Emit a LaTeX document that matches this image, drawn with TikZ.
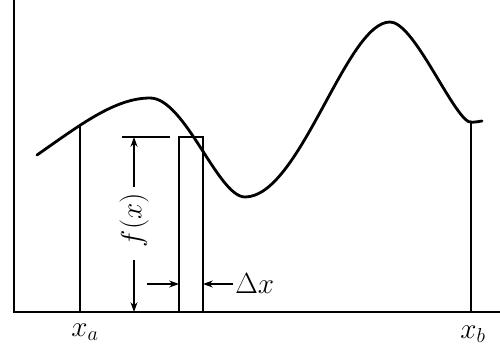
\documentclass[tikz,border=0pt]{standalone}
\usepackage{amsmath,amssymb}
\usetikzlibrary{arrows.meta}

\begin{document}
\begin{tikzpicture}[x=.025cm,y=.025cm,
  axisline/.style={line width=2pt},
  thinline/.style={line width=.9pt},
  dimarrow/.style={line width=.9pt,-{Stealth[length=7pt,width=5pt]}},
  lbl/.style={font=\fontsize{20}{24}\selectfont,inner sep=0pt}]
  \useasboundingbox (0,0) rectangle (500,349);
  % axes
  \coordinate (ytop) at (14,349);
  \coordinate (O) at (14,37);
  \coordinate (xend) at (500,37);
  \draw[axisline] (ytop) -- (O) -- (xend);
  % f(x)
  \draw[line width=2pt,line cap=round] (37,194)
    .. controls (80,224) and (115,251) .. (150,251)
    .. controls (185,251) and (218,152) .. (245,152)
    .. controls (300,152) and (346,327) .. (390,327)
    .. controls (412,327) and (445,250) .. (465,230)
    .. controls (469,225) and (475,227) .. (482,228);
  % limits
  \coordinate (xabot) at (80,37);
  \coordinate (xatop) at (80,223);
  \coordinate (xbbot) at (471,37);
  \coordinate (xbtop) at (471,226);
  \draw[thinline] (xabot) -- (xatop);
  \draw[thinline] (xbbot) -- (xbtop);
  \node[lbl] (xa) at (85,17) {$x_a$};
  \node[lbl] (xb) at (473,15) {$x_b$};
  % strip
  \coordinate (stripbl) at (179,37);
  \coordinate (striptr) at (203,212);
  \draw[thinline] (stripbl) rectangle (striptr);
  % height
  \coordinate (tickl) at (122,212);
  \coordinate (tickr) at (170,212);
  \draw[thinline] (tickl) -- (tickr);
  \node[lbl,rotate=90] (fx) at (134,129) {$f(x)$};
  \coordinate (fxup) at (134,162);
  \coordinate (fxtop) at (134,212);
  \coordinate (fxdn) at (134,89);
  \coordinate (fxbot) at (134,37);
  \draw[dimarrow] (fxup) -- (fxtop);
  \draw[dimarrow] (fxdn) -- (fxbot);
  % width
  \coordinate (dxl) at (147,65);
  \coordinate (dxr) at (233,65);
  \coordinate (stripl) at (179,65);
  \coordinate (stripr) at (203,65);
  \draw[dimarrow] (dxl) -- (stripl);
  \draw[dimarrow] (dxr) -- (stripr);
  \node[lbl,anchor=west] (dx) at (235,65) {$\Delta x$};
\end{tikzpicture}
\end{document}
